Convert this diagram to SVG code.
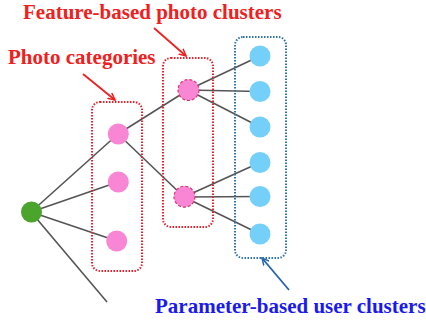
<svg xmlns="http://www.w3.org/2000/svg" width="426" height="321" viewBox="0 0 426 321">
<defs>
<style>
.edge{stroke:#555;stroke-width:1.6;fill:none}
.rbox{fill:none;stroke:#e8202a;stroke-width:2;stroke-dasharray:1.5 1.5}
.bbox{fill:none;stroke:#2f72b0;stroke-width:2;stroke-dasharray:1.5 1.5}
.cat{fill:#f985d5}
.feat{fill:#f985d5;stroke:#d8346a;stroke-width:1.2;stroke-dasharray:3 2}
.user{fill:#74d0f9}
.root{fill:#4ba42b}
.lbl{font-family:"Liberation Serif","Times New Roman",serif;font-weight:bold;font-size:21px}
.red{fill:#f02020}
.blue{fill:#1a1af0}
</style>
<marker id="ar" markerWidth="8" markerHeight="8" refX="7" refY="4" orient="auto" markerUnits="userSpaceOnUse">
<path d="M0,0.5 L7,4 L0,7.5" fill="none" stroke="#f02020" stroke-width="1.5"/>
</marker>
<marker id="ab" markerWidth="8" markerHeight="8" refX="7" refY="4" orient="auto" markerUnits="userSpaceOnUse">
<path d="M0,0.5 L7,4 L0,7.5" fill="none" stroke="#2563b0" stroke-width="1.5"/>
</marker>
</defs>
<rect width="426" height="321" fill="#fff"/>
<g id="connectors">
<line class="edge" x1="31" y1="212" x2="118" y2="134"/>
<line class="edge" x1="31" y1="212" x2="118" y2="182"/>
<line class="edge" x1="31" y1="212" x2="117" y2="241"/>
<line class="edge" x1="31" y1="212" x2="107" y2="302"/>
<line class="edge" x1="118" y1="134" x2="188" y2="90"/>
<line class="edge" x1="118" y1="134" x2="184" y2="197"/>
<line class="edge" x1="188" y1="90" x2="260" y2="56"/>
<line class="edge" x1="188" y1="90" x2="260" y2="91.5"/>
<line class="edge" x1="188" y1="90" x2="260" y2="127"/>
<line class="edge" x1="184" y1="197" x2="260" y2="162.5"/>
<line class="edge" x1="184" y1="197" x2="260" y2="196.5"/>
<line class="edge" x1="184" y1="197" x2="260" y2="234"/>
<line x1="83" y1="74" x2="115" y2="100" stroke="#f02020" stroke-width="1.8" marker-end="url(#ar)"/>
<line x1="154" y1="28" x2="186" y2="56" stroke="#f02020" stroke-width="1.8" marker-end="url(#ar)"/>
<line x1="289" y1="290" x2="262" y2="258" stroke="#2563b0" stroke-width="1.8" marker-end="url(#ab)"/>
</g>
<g id="box-categories"><rect class="rbox" x="92" y="102" width="50" height="169" rx="8"/></g>
<g id="box-features"><rect class="rbox" x="163" y="58" width="50" height="169" rx="8"/></g>
<g id="box-users"><rect class="bbox" x="235" y="37" width="51" height="221" rx="8"/></g>
<g id="root"><circle class="root" cx="31.5" cy="212" r="10.5"/></g>
<g id="cat1"><circle class="cat" cx="118.3" cy="134" r="10.5"/></g>
<g id="cat2"><circle class="cat" cx="118.3" cy="182" r="10.5"/></g>
<g id="cat3"><circle class="cat" cx="116.7" cy="241" r="10.5"/></g>
<g id="feat1"><circle class="feat" cx="188.5" cy="90" r="10.5"/></g>
<g id="feat2"><circle class="feat" cx="184.5" cy="196.7" r="10.5"/></g>
<g id="user1"><circle class="user" cx="260" cy="56" r="10.5"/></g>
<g id="user2"><circle class="user" cx="260" cy="91.5" r="10.5"/></g>
<g id="user3"><circle class="user" cx="260" cy="127" r="10.5"/></g>
<g id="user4"><circle class="user" cx="260" cy="162.5" r="10.5"/></g>
<g id="user5"><circle class="user" cx="260" cy="196.5" r="10.5"/></g>
<g id="user6"><circle class="user" cx="260" cy="234" r="10.5"/></g>
<g id="label-feature"><text class="lbl red" x="23" y="18.5">Feature-based photo clusters</text></g>
<g id="label-categories"><text class="lbl red" x="8" y="64">Photo categories</text></g>
<g id="label-users"><text class="lbl blue" x="155" y="313">Parameter-based user clusters</text></g>
</svg>
